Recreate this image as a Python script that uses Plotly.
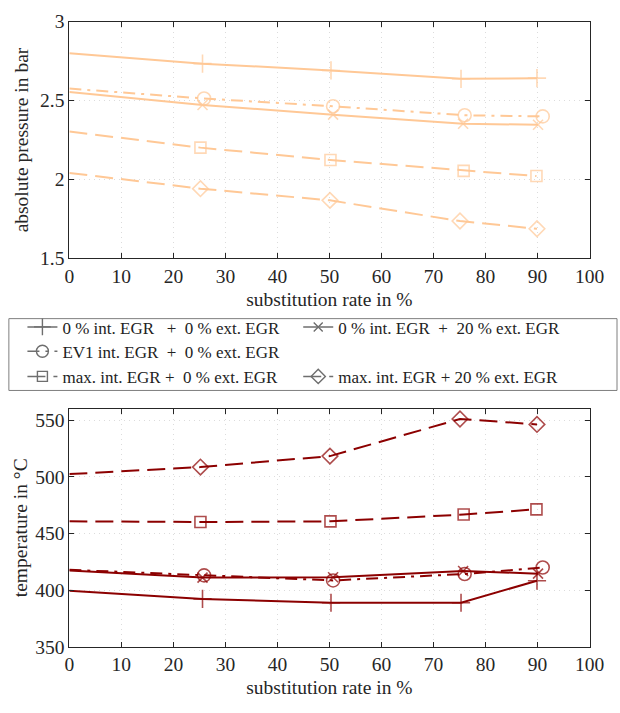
import plotly.graph_objects as go
from plotly.subplots import make_subplots

# substitution rate in % (x positions of the measured operating points)
x_plus = [0, 25.6, 50.3, 75.3, 89.9]
x_cross = [0, 25.6, 50.7, 75.7, 90.1]
x_circ = [0, 25.9, 50.7, 76.0, 91.0]
x_sq = [0, 25.2, 50.2, 75.8, 89.8]
x_dia = [0, 25.2, 50.1, 75.1, 89.9]

# absolute pressure in bar
p_plus = [2.80, 2.734, 2.691, 2.638, 2.642]
p_cross = [2.554, 2.472, 2.411, 2.353, 2.347]
p_circ = [2.576, 2.513, 2.464, 2.407, 2.400]
p_sq = [2.304, 2.202, 2.124, 2.055, 2.022]
p_dia = [2.042, 1.942, 1.868, 1.737, 1.688]

# temperature in °C
t_plus = [399.4, 392.2, 388.8, 388.8, 408.2]
t_cross = [417.3, 411.0, 411.3, 416.8, 414.5]
t_circ = [417.9, 413.0, 408.5, 414.2, 419.9]
t_sq = [460.7, 460.1, 460.7, 466.7, 471.3]
t_dia = [502.4, 508.6, 518.3, 551.1, 546.3]

NB = "\u00a0"
names = [
    f"0{NB}%{NB}int.{NB}EGR{NB}{NB}{NB}+{NB}{NB}0{NB}%{NB}ext.{NB}EGR",
    f"0{NB}%{NB}int.{NB}EGR{NB}{NB}+{NB}{NB}20{NB}%{NB}ext.{NB}EGR",
    f"EV1{NB}int.{NB}EGR{NB}{NB}+{NB}{NB}0{NB}%{NB}ext.{NB}EGR",
    f"max.{NB}int.{NB}EGR{NB}+{NB}{NB}0{NB}%{NB}ext.{NB}EGR",
    f"max.{NB}int.{NB}EGR{NB}+{NB}20{NB}%{NB}ext.{NB}EGR",
]

ORANGE = "rgb(255,200,150)"
DARKRED = "rgb(140,0,0)"
GRAY = "rgb(110,110,110)"
FONT = "Times New Roman, Liberation Serif, serif"

DASH = "18px,8px"
DASHDOT = "12px,6px,3px,6px"

styles = [
    dict(dash="solid", symbol="cross-thin-open", size=13),
    dict(dash="solid", symbol="x-thin-open", size=10),
    dict(dash=DASHDOT, symbol="circle-open", size=13),
    dict(dash=DASH, symbol="square-open", size=11),
    dict(dash=DASH, symbol="diamond-open", size=12),
]

xs = [x_plus, x_cross, x_circ, x_sq, x_dia]
ps = [p_plus, p_cross, p_circ, p_sq, p_dia]
ts = [t_plus, t_cross, t_circ, t_sq, t_dia]

fig = make_subplots(rows=2, cols=1)

for i in range(5):
    st = styles[i]
    # the line starts at 0 % without a marker
    sizes = [0] + [st["size"]] * (len(xs[i]) - 1)
    for row, ys, col in ((1, ps[i], ORANGE), (2, ts[i], DARKRED)):
        fig.add_trace(go.Scatter(
            x=xs[i], y=ys, mode="lines+markers", showlegend=False,
            line=dict(color=col, width=2, dash=st["dash"]),
            marker=dict(symbol=st["symbol"], size=sizes,
                        color=col, line=dict(color=col, width=1.6)),
            hoverinfo="skip",
        ), row=row, col=1)

# gray legend entries
legend_ids = ["legend", "legend2", "legend3", "legend4", "legend5"]
for i in range(5):
    st = styles[i]
    fig.add_trace(go.Scatter(
        x=[None], y=[None], mode="lines+markers", name=names[i],
        legend=legend_ids[i], showlegend=True,
        line=dict(color=GRAY, width=1.5, dash=st["dash"]),
        marker=dict(symbol=st["symbol"], size=st["size"] - 1, color=GRAY,
                    line=dict(color=GRAY, width=1.4)),
    ), row=1, col=1)

W, H = 620, 713


def px_x(v):
    return v / W


def px_y(v):
    return 1 - v / H


legend_pos = [(18, 327), (303, 327), (18, 352), (18, 378), (303, 378)]
leg_common = dict(bgcolor="rgba(0,0,0,0)", borderwidth=0,
                  font=dict(family=FONT, size=17, color="#222"),
                  xanchor="left", yanchor="middle", itemwidth=30,
                  orientation="h")
legends = {}
for lid, (lx, ly) in zip(legend_ids, legend_pos):
    legends[lid] = dict(leg_common, x=px_x(lx), y=px_y(ly))

TXT = 19.5
axis_common = dict(
    showline=True, linecolor="#262626", linewidth=1, mirror="ticks",
    ticks="inside", ticklen=5, tickcolor="#262626",
    showgrid=True, gridcolor="#dcdcdc", griddash="1px,4px", gridwidth=1,
    zeroline=False,
    tickfont=dict(family=FONT, size=TXT, color="#262626"),
)

title_font = dict(family=FONT, size=TXT, color="#262626")
xdom = [px_x(66.5), px_x(604)]
fig.update_layout(
    width=W, height=H,
    margin=dict(l=0, r=0, t=0, b=0),
    paper_bgcolor="white", plot_bgcolor="white",
    font=dict(family=FONT, color="#262626"),
    showlegend=True,
    **legends,
    xaxis=dict(axis_common, domain=xdom, range=[0, 100], dtick=10,
               title=dict(text="substitution rate in %", standoff=6,
                          font=title_font)),
    yaxis=dict(axis_common, domain=[px_y(256), px_y(12)], range=[1.5, 3],
               dtick=0.5, tickformat="~g",
               title=dict(text="absolute pressure in bar", standoff=6,
                          font=title_font)),
    xaxis2=dict(axis_common, domain=xdom, range=[0, 100], dtick=10,
                title=dict(text="substitution rate in %", standoff=6,
                           font=title_font)),
    yaxis2=dict(axis_common, domain=[px_y(656), px_y(411)], range=[350, 560],
                tickvals=[350, 400, 450, 500, 550],
                title=dict(text="temperature in °C", standoff=2,
                           font=title_font)),
    shapes=[dict(type="rect", xref="paper", yref="paper",
                 x0=px_x(4), x1=1.02, y0=px_y(392), y1=px_y(318),
                 line=dict(color="#7f7f7f", width=1), fillcolor="rgba(0,0,0,0)")],
)

fig.write_html("out.html")
